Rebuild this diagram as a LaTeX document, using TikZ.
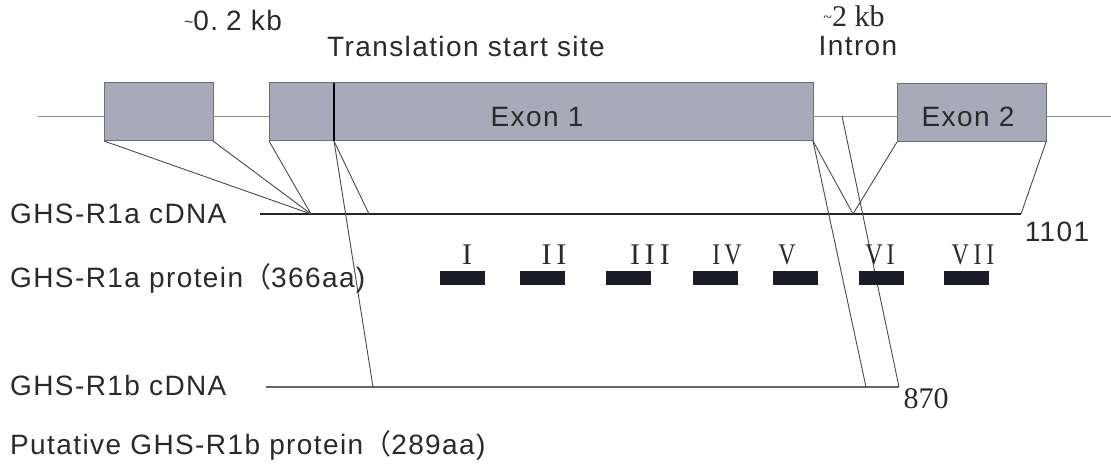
\documentclass[tikz,border=0pt]{standalone}
\usepackage{fontspec}
\setmainfont{Liberation Sans}
\newfontfamily\numserif{Liberation Serif}
\newfontfamily\cjk{Noto Sans CJK SC}
\definecolor{exonfill}{HTML}{A8AAB9}
\definecolor{exonedge}{HTML}{6C6D7C}
\definecolor{ink}{HTML}{2A2A2A}
\definecolor{linkgray}{HTML}{4A4A4A}
\definecolor{dnagray}{HTML}{8A8A96}
\definecolor{barfill}{HTML}{1C1C28}
\newcommand\labelfont{\fontsize{28}{32}\selectfont\addfontfeatures{LetterSpace=5}}
\newcommand\romanfont{\numserif\fontsize{30}{32}\selectfont}
\newcommand\fw[1]{{\cjk #1}}
\begin{document}
\begin{tikzpicture}[x=1pt,y=-1pt,
  exon/.style={rectangle, draw=exonedge, fill=exonfill, line width=1pt,
    minimum height=58pt, inner sep=0pt, outer sep=0pt},
  dna/.style={draw=dnagray, line width=0.9pt},
  link/.style={draw=linkgray, line width=0.9pt},
  cdnaA/.style={draw=black!85, line width=2.4pt},
  cdnaB/.style={draw=black!60, line width=1.1pt},
  tsline/.style={draw=black, line width=2pt},
  lbl/.style={font=\labelfont, text=ink, inner sep=0pt, anchor=base west},
  txt/.style={font=\labelfont, text=ink, inner sep=0pt},
  sertxt/.style={font=\numserif\fontsize{30}{32}\selectfont, text=ink, inner sep=0pt},
  tmbar/.style={rectangle, fill=barfill, draw=none, minimum width=45pt,
    minimum height=14pt, inner sep=0pt, outer sep=0pt},
  rn/.style={font=\romanfont, text=ink, inner sep=0pt}]
\useasboundingbox (0,0) rectangle (1111,470);

% genomic exons
\node[exon, minimum width=109pt] (e0) at (158.5,112) {};
\node[exon, minimum width=544pt] (e1) at (541,112) {};
\node[exon, minimum width=149pt] (e2) at (971.5,113) {};
\node[txt] (ex1) at (537,117) {Exon 1};
\node[txt] (ex2) at (968,117) {Exon 2};

% genomic backbone (introns and flanks)
\coordinate (g0) at (38,116);
\coordinate (g5) at (1111,116);
\coordinate (ip) at (842,116);
\draw[dna] (g0) -- (g0 -| e0.west);
\draw[dna] (g0 -| e0.east) -- (g0 -| e1.west);
\draw[dna] (g0 -| e1.east) -- (g0 -| e2.west);
\draw[dna] (g0 -| e2.east) -- (g5);

% translation start site
\coordinate (ts0) at (334,83);
\coordinate (ts1) at (334,141);
\draw[tsline] (ts0) -- (ts1);

% cDNA lines
\coordinate (a0) at (260,214);
\coordinate (aj1) at (311,214);
\coordinate (aj2) at (369,214);
\coordinate (aj3) at (853,214);
\coordinate (a1) at (1021,214);
\coordinate (b0) at (266,387);
\coordinate (bj1) at (373,387);
\coordinate (bj2) at (866,387);
\coordinate (b1) at (899,387);
\draw[cdnaA] (a0) -- (a1);
\draw[cdnaB] (b0) -- (b1);

% exon to cDNA correspondence
\draw[link] (e0.south west) -- (aj1);
\draw[link] (e0.south east) -- (aj1);
\draw[link] (e1.south west) -- (aj1);
\draw[link] (ts1) -- (aj2);
\draw[link] (ts1) -- (bj1);
\draw[link] (e1.south east) -- (aj3);
\draw[link] (e1.south east) -- (bj2);
\draw[link] (ip) -- (b1);
\draw[link] (e2.south west) -- (aj3);
\draw[link] (e2.south east) -- (a1);

% transmembrane domains
\node[tmbar] (tm1) at (462.5,278.5) {};
\node[tmbar] (tm2) at (542,278.5) {};
\node[tmbar] (tm3) at (628,278.5) {};
\node[tmbar] (tm4) at (715,278.5) {};
\node[tmbar] (tm5) at (795,278.5) {};
\node[tmbar] (tm6) at (881,278.5) {};
\node[tmbar] (tm7) at (966.5,278.5) {};
\node[rn] (r1) at (467,255) {I};
\node[rn] (r2) at (554,255) {I\hspace{5pt}I};
\node[rn] (r3) at (650,255) {I\hspace{5pt}I\hspace{5pt}I};
\node[rn] (r4) at (727,255) {\scalebox{0.8}[1]{I\,V}};
\node[rn] (r5) at (787,255) {\scalebox{0.8}[1]{V}};
\node[rn] (r6) at (880,255) {\scalebox{0.8}[1]{V\,I}};
\node[rn] (r7) at (973,255) {\scalebox{0.8}[1]{V\hspace{6pt}I\hspace{6pt}I}};

% annotations
\node[txt] (kb02) at (233,20) {\raisebox{3pt}{\fontsize{16}{16}\selectfont\textasciitilde}0.\hspace{8pt}2 kb};
\node[txt] (tss) at (466,46) {Translation start site};
\node[sertxt] (kb2) at (854,16) {\raisebox{4pt}{\fontsize{16}{16}\selectfont\textasciitilde}2 kb};
\node[txt] (intr) at (858,46) {Intron};
\node[txt] (n1101) at (1057,232) {1101};
\node[sertxt] (n870) at (926,399) {870};

% row labels
\node[lbl] (l1) at (10,224) {GHS-R1a cDNA};
\node[lbl] (l2) at (10,288) {GHS-R1a protein\fw{（}366aa)};
\node[lbl] (l3) at (10,395) {GHS-R1b cDNA};
\node[lbl] (l4) at (10,454) {Putative GHS-R1b protein\fw{（}289aa)};
\end{tikzpicture}
\end{document}
